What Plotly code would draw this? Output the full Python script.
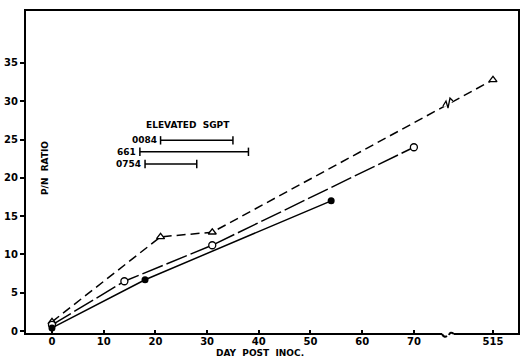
import plotly.graph_objects as go

# ---------------- data ----------------
tri_days = [0, 21, 31, 515]
tri_vals = [1.2, 12.3, 12.9, 32.8]

open_days = [0, 14, 31, 70]
open_vals = [0.8, 6.5, 11.2, 24.0]

fill_days = [0, 18, 54]
fill_vals = [0.4, 6.7, 17.0]

sgpt_labels = ["0084", "661", "0754"]
sgpt_start = [21, 17, 18]
sgpt_end = [35, 38, 28]
sgpt_level = [24.9, 23.4, 21.8]

x_tick_vals = [0, 10, 20, 30, 40, 50, 60, 70, 515]
y_tick_vals = [0, 5, 10, 15, 20, 25, 30, 35]

# broken axis: days beyond the break are drawn at a compressed position
BREAK_POS_515 = 85.3


def xpos(d):
    return d if d <= 75 else BREAK_POS_515


# ---------------- geometry helpers ----------------
W, H = 524, 362
L, R, T, B = 25, 5, 10, 28
X0, X1 = -5.22, 90.33
Y0, Y1 = -0.39, 41.92
PW, PH = W - L - R, H - T - B


def px2x(px):
    return X0 + (px - L) / PW * (X1 - X0)


def py2y(py):
    return Y1 - (py - T) / PH * (Y1 - Y0)


def ppx(px):
    return (px - L) / PW


def ppy(py):
    return (H - B - py) / PH


fig = go.Figure()

FONT = "DejaVu Sans"

fig.add_trace(go.Scatter(
    x=[xpos(d) for d in tri_days], y=tri_vals, mode="lines+markers",
    line=dict(color="black", width=1.5, dash="9px,5px"),
    marker=dict(symbol="triangle-up", size=7, color="white",
                line=dict(color="black", width=1.3)),
    showlegend=False, cliponaxis=False))

fig.add_trace(go.Scatter(
    x=[xpos(d) for d in open_days], y=open_vals, mode="lines+markers",
    line=dict(color="black", width=1.5, dash="22px,4px"),
    marker=dict(symbol="circle", size=7, color="white",
                line=dict(color="black", width=1.3)),
    showlegend=False, cliponaxis=False))

fig.add_trace(go.Scatter(
    x=[xpos(d) for d in fill_days], y=fill_vals, mode="lines+markers",
    line=dict(color="black", width=1.5),
    marker=dict(symbol="circle", size=7, color="black"),
    showlegend=False, cliponaxis=False))

# elevated SGPT ranges
for lab, s, e, lv in zip(sgpt_labels, sgpt_start, sgpt_end, sgpt_level):
    fig.add_trace(go.Scatter(
        x=[s, e], y=[lv, lv], mode="lines+markers",
        line=dict(color="black", width=1.5),
        marker=dict(symbol="line-ns", size=6,
                    line=dict(color="black", width=1.5)),
        showlegend=False))
    fig.add_annotation(x=s, y=lv, text=f"<b>{lab}</b>", showarrow=False,
                       xanchor="right", xshift=-2, yanchor="middle",
                       font=dict(family=FONT, size=9, color="black"))

fig.add_annotation(x=px2x(188), y=py2y(125), text="<b>ELEVATED  SGPT</b>",
                   showarrow=False, xanchor="center", yanchor="middle",
                   font=dict(family=FONT, size=9, color="black"))

fig.add_annotation(x=px2x(45), y=py2y(168), text="<b>P/N  RATIO</b>",
                   showarrow=False, textangle=-90, xanchor="center",
                   yanchor="middle",
                   font=dict(family=FONT, size=9, color="black"))

fig.add_annotation(x=px2x(260), y=ppy(353), yref="paper",
                   text="<b>DAY  POST  INOC.</b>",
                   showarrow=False, xanchor="center", yanchor="middle",
                   font=dict(family=FONT, size=9, color="black"))

# frame with broken bottom axis
yb = H - B
frame = (f"M {ppx(442)},{ppy(yb)} L {ppx(L)},{ppy(yb)} L {ppx(L)},{ppy(T)} "
         f"L {ppx(519)},{ppy(T)} L {ppx(519)},{ppy(yb)} L {ppx(454)},{ppy(yb)}")
fig.add_shape(type="path", xref="paper", yref="paper", path=frame,
              line=dict(color="black", width=2))
brk1 = (f"M {ppx(442)},{ppy(yb)} Q {ppx(444)},{ppy(yb + 4)} {ppx(447)},{ppy(yb + 2)}")
brk2 = (f"M {ppx(449)},{ppy(yb + 1)} Q {ppx(450)},{ppy(yb - 3)} {ppx(454)},{ppy(yb)}")
for p in (brk1, brk2):
    fig.add_shape(type="path", xref="paper", yref="paper", path=p,
                  line=dict(color="black", width=2))

# zigzag on the dashed line at the break
zx = [443, 446, 448, 450, 453]
zy = [106, 101, 108, 98, 101]
zz = "M " + " L ".join(f"{px2x(a)},{py2y(b)}" for a, b in zip(zx, zy))
fig.add_shape(type="path", xref="x", yref="y", path=zz,
              line=dict(color="white", width=4))
fig.add_shape(type="path", xref="x", yref="y", path=zz,
              line=dict(color="black", width=1.3))

fig.update_xaxes(range=[X0, X1], showgrid=False, zeroline=False,
                 showline=False, ticks="inside", ticklen=4, tickwidth=1.5,
                 tickcolor="black",
                 tickvals=[xpos(d) for d in x_tick_vals],
                 ticktext=[f"<b>{d}</b>" for d in x_tick_vals],
                 tickfont=dict(family=FONT, size=10, color="black"))
fig.update_yaxes(range=[Y0, Y1], showgrid=False, zeroline=False,
                 showline=False, ticks="outside", ticklen=4, tickwidth=1.5,
                 tickcolor="black", tickvals=y_tick_vals,
                 ticktext=[f"<b>{v}</b>" for v in y_tick_vals],
                 tickfont=dict(family=FONT, size=10, color="black"))

fig.update_layout(width=W, height=H, margin=dict(l=L, r=R, t=T, b=B),
                  paper_bgcolor="white", plot_bgcolor="white")

fig.write_html("out.html")
